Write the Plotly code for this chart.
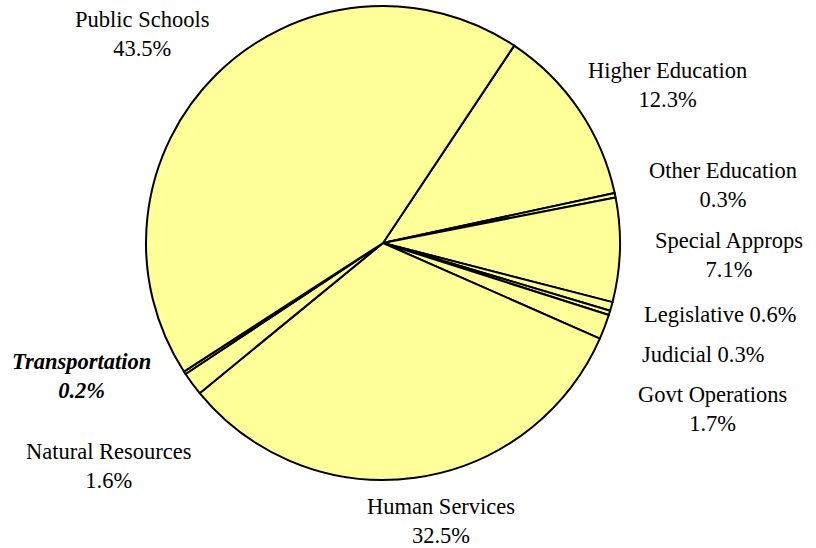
import plotly.graph_objects as go

labels = ["Higher Education", "Other Education", "Special Approps", "Legislative",
          "Judicial", "Govt Operations", "Human Services", "Natural Resources",
          "Transportation", "Public Schools"]
values = [12.3, 0.3, 7.1, 0.6, 0.3, 1.7, 32.5, 1.6, 0.2, 43.5]
separators = ["<br>", "<br>", "<br>", " ", " ", "<br>", "<br>", "<br>", "<br>", "<br>"]
label_x = [667, 723, 729, 720, 703, 712, 441, 109, 81, 142]
label_y = [85, 185, 255, 314, 354, 409, 521, 466, 376, 34]
emphasis = [False] * 8 + [True, False]

W, H = 816, 548
cx, cy, r = 383, 243, 237

fig = go.Figure(go.Pie(
    labels=labels, values=values, sort=False, direction="clockwise",
    rotation=33.6, textinfo="none", hoverinfo="label+percent",
    marker=dict(colors=["#FFFF99"] * len(values), line=dict(color="#000000", width=2)),
    domain=dict(x=[(cx - r) / W, (cx + r) / W], y=[(H - cy - r) / H, (H - cy + r) / H]),
    showlegend=False,
))

for lab, v, sep, x, y, em in zip(labels, values, separators, label_x, label_y, emphasis):
    txt = f"{lab}{sep}{v:.1f}%"
    if em:
        txt = f"<b><i>{lab}</i></b>{sep}<b><i>{v:.1f}%</i></b>"
    fig.add_annotation(text=txt, x=x / W, y=1 - y / H, xref="paper", yref="paper",
                       xanchor="center", yanchor="middle", showarrow=False,
                       font=dict(family="Liberation Serif", size=22.5, color="#000000"))

fig.update_layout(width=W, height=H, margin=dict(l=0, r=0, t=0, b=0),
                  paper_bgcolor="white", plot_bgcolor="white",
                  font=dict(family="Liberation Serif"))
fig.write_html("out.html")
